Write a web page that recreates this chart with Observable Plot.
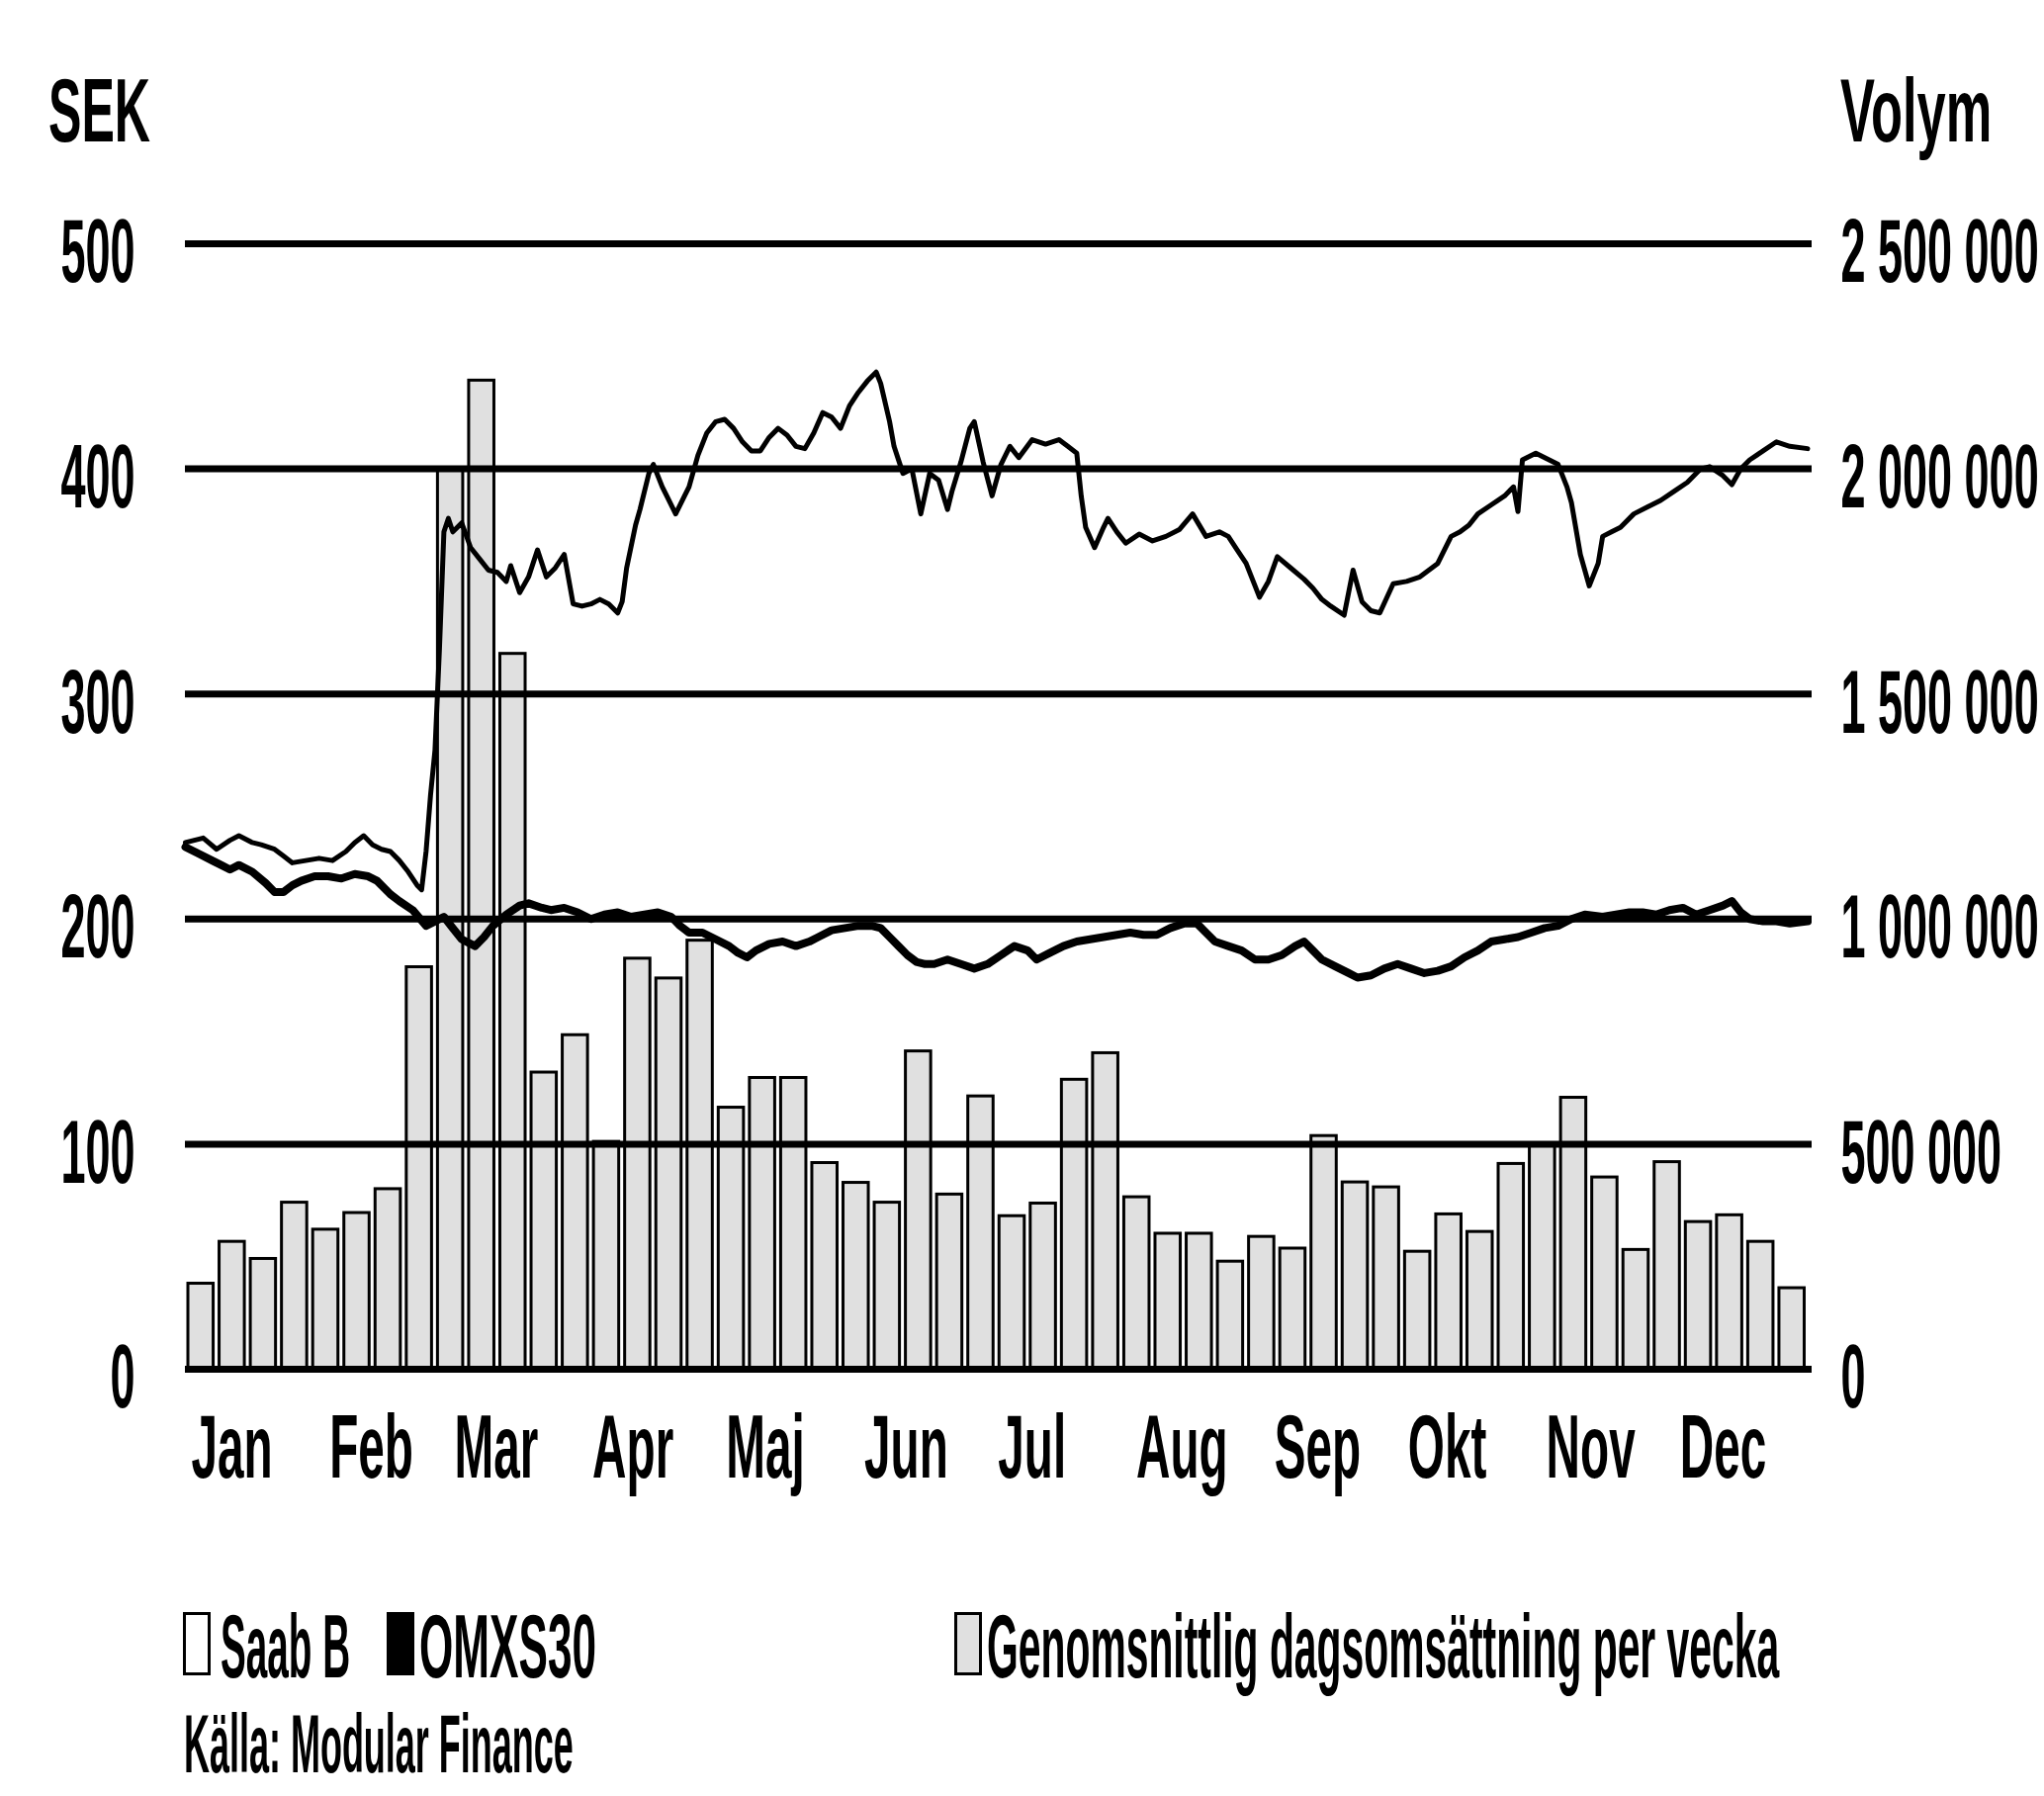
<!DOCTYPE html>
<html>
<head>
<meta charset="utf-8">
<script src="https://cdn.jsdelivr.net/npm/d3@7"></script>
<script src="https://cdn.jsdelivr.net/npm/@observablehq/plot@0.6"></script>
<style>
html,body{margin:0;padding:0;background:#fff;}
body{width:2067px;height:1816px;overflow:hidden;position:relative;font-family:"Liberation Sans",Arial,sans-serif;font-weight:bold;color:#000;}
.t{position:absolute;white-space:nowrap;font-size:90px;line-height:1;transform-origin:0 0;}
.box{position:absolute;box-sizing:border-box;border:3px solid #000;}
#chart{position:absolute;left:0;top:170px;}
</style>
</head>
<body>
<div class="t" data-w="103" style="left:49px;top:67px;">SEK</div>
<div class="t" data-w="153" style="left:1861px;top:67px;">Volym</div>
<div id="chart"></div>
<div class="box" style="left:185px;top:1630px;width:28px;height:64px;background:#fff;"></div>
<div class="t" data-w="131" style="left:223px;top:1620px;">Saab B</div>
<div class="box" style="left:391px;top:1630px;width:28px;height:64px;background:#000;"></div>
<div class="t" data-w="179" style="left:424px;top:1620px;">OMXS30</div>
<div class="box" style="left:965px;top:1630px;width:28px;height:64px;background:#e0e0e0;"></div>
<div class="t" data-w="801" style="left:998px;top:1620px;">Genomsnittlig dagsomsättning per vecka</div>
<div class="t" data-w="394" style="left:186px;top:1721px;font-size:84px;">Källa: Modular Finance</div>
<script>
// ---- data ----
const manader = ["Jan","Feb","Mar","Apr","Maj","Jun","Jul","Aug","Sep","Okt","Nov","Dec"];
const sekTicks = [0, 100, 200, 300, 400, 500];
const volymTicks = [0, 500000, 1000000, 1500000, 2000000, 2500000];

// Saab B, SEK (2022)
const saabDatum = ["01-01","01-03","01-05","01-08","01-11","01-13","01-16","01-18","01-21","01-23","01-25","01-28","01-31",
 "02-03","02-06","02-08","02-10","02-12","02-14","02-16","02-18","02-20","02-22","02-23","02-24","02-25","02-26","02-27","02-28",
 "03-01","03-02","03-04","03-06","03-08","03-10","03-12","03-14","03-15","03-17","03-19","03-21","03-23","03-25","03-27","03-29","03-31",
 "04-02","04-04","04-06","04-08","04-09","04-10","04-12","04-13","04-15","04-16","04-18","04-19","04-21","04-23","04-24","04-26","04-28","04-30",
 "05-02","05-04","05-06","05-08","05-10","05-12","05-14","05-16","05-18","05-20","05-22","05-24","05-26","05-28","05-30",
 "06-01","06-03","06-04","06-05","06-06","06-08","06-09","06-11","06-13","06-15","06-17","06-19","06-21","06-22","06-24","06-26","06-27","06-29",
 "07-01","07-03","07-05","07-07","07-10","07-13","07-16","07-18","07-20","07-21","07-22","07-24","07-26","07-27","07-29","07-31",
 "08-03","08-06","08-09","08-12","08-15","08-18","08-21","08-23","08-25","08-27","08-29","08-30",
 "09-01","09-03","09-06","09-09","09-11","09-13","09-15","09-18","09-19","09-20","09-22","09-24","09-26","09-29",
 "10-02","10-05","10-09","10-12","10-14","10-16","10-18","10-21","10-24","10-26","10-27","10-28","10-31",
 "11-02","11-05","11-07","11-08","11-10","11-12","11-14","11-15","11-17","11-19","11-22","11-25","11-28",
 "12-01","12-04","12-07","12-09","12-12","12-14","12-16","12-18","12-21","12-24","12-27","12-31"];
const saabKurs = [234,235,236,231,235,237,234,233,231,228,225,226,227,
 226,230,234,237,233,231,230,226,221,215,213,230,255,275,320,372,
 378,372,376,365,360,355,354,350,357,345,352,364,352,356,362,340,339,
 340,342,340,336,341,356,375,382,398,402,392,388,380,388,392,406,416,421,
 422,418,412,408,408,414,418,415,410,409,416,425,423,418,428,
 434,439,441,443,438,421,410,398,400,380,398,395,382,390,403,418,421,403,
 388,402,410,405,413,411,413,410,407,388,374,365,374,378,372,367,
 371,368,370,373,380,370,372,370,364,358,348,343,
 350,361,356,351,347,342,339,335,345,355,341,337,336,349,
 350,352,358,370,372,375,380,384,388,392,381,404,407,
 405,402,392,385,362,348,358,370,372,374,380,383,386,
 390,394,400,401,397,393,400,404,408,412,410,409];

// OMXS30, indexerat till Saab B (SEK)
const omxDatum = ["01-01","01-04","01-07","01-09","01-11","01-13","01-16","01-19","01-21","01-23","01-25","01-27","01-30",
 "02-02","02-05","02-08","02-11","02-13","02-16","02-18","02-21","02-24","02-26","02-28",
 "03-02","03-04","03-06","03-07","03-09","03-11","03-14","03-17","03-19","03-22","03-24","03-27","03-30",
 "04-02","04-05","04-08","04-11","04-14","04-17","04-20","04-22","04-24","04-27","04-30",
 "05-03","05-05","05-07","05-09","05-12","05-15","05-18","05-21","05-23","05-26","05-29",
 "06-01","06-04","06-06","06-08","06-10","06-12","06-14","06-16","06-18","06-21","06-24","06-27","06-30",
 "07-03","07-06","07-09","07-11","07-14","07-17","07-20","07-23","07-26","07-29",
 "08-01","08-04","08-07","08-10","08-13","08-16","08-18","08-20","08-23","08-26","08-29",
 "09-01","09-04","09-07","09-09","09-11","09-13","09-16","09-19","09-21","09-24","09-27","09-30",
 "10-03","10-06","10-09","10-12","10-15","10-18","10-21","10-24","10-27","10-30",
 "11-02","11-05","11-08","11-11","11-15","11-18","11-21","11-24","11-27","11-30",
 "12-03","12-06","12-09","12-12","12-14","12-16","12-18","12-21","12-24","12-27","12-31"];
const omxKurs = [232,229,226,224,222,224,221,216,212,212,215,217,219,
 219,218,220,219,217,211,208,204,197,199,201,
 196,191,189,188,192,197,202,206,207,205,204,205,203,
 200,202,203,201,202,203,201,197,194,194,191,
 188,185,183,186,189,190,188,190,192,195,196,
 197,197,196,192,188,184,181,180,180,182,180,178,180,
 184,188,186,182,185,188,190,191,192,193,
 194,193,193,196,198,198,194,190,188,186,182,
 182,184,188,190,186,182,179,176,174,175,178,180,
 178,176,177,179,183,186,190,191,192,194,
 196,197,200,202,201,202,203,203,202,204,
 205,202,204,206,208,203,200,199,199,198,199];

// Genomsnittlig dagsomsättning per vecka (antal aktier)
const veckor = [1,2,3,4,5,6,7,8,9,10,11,12,13,14,15,16,17,18,19,20,21,22,23,24,25,26,
 27,28,29,30,31,32,33,34,35,36,37,38,39,40,41,42,43,44,45,46,47,48,49,50,51,52];
const volym = [190000,283000,245000,370000,310000,347000,400000,893000,2000000,2196000,1589000,659000,742000,
 505000,912000,868000,952000,581000,647000,647000,458000,414000,370000,706000,388000,606000,
 340000,368000,643000,702000,382000,301000,301000,239000,294000,268000,518000,415000,404000,
 261000,344000,305000,456000,500000,603000,426000,265000,460000,327000,342000,283000,180000];

// ---- build ----
const start = new Date(Date.UTC(2022, 0, 1));
const end = new Date(Date.UTC(2023, 0, 1));
const parse = s => new Date("2022-" + s + "T00:00:00Z");
const saab = saabDatum.map((d, i) => ({date: parse(d), v: saabKurs[i]}));
const omx = omxDatum.map((d, i) => ({date: parse(d), v: omxKurs[i]}));
const bars = veckor.map((w, i) => ({
  x1: d3.utcDay.offset(start, 7 * (w - 1)),
  x2: d3.utcDay.offset(start, 7 * w),
  vol: volym[i]
}));
const VOL_PER_SEK = 5000; // 2 500 000 aktier <-> 500 SEK
const monthStarts = d3.utcMonths(start, end);
const fmtVol = v => v === 0 ? "0" : d3.format(",")(v).replace(/,/g, " ");

const chart = Plot.plot({
  width: 2067,
  height: 1344,
  marginLeft: 187,
  marginRight: 235,
  marginTop: 76,
  marginBottom: 130,
  style: {fontFamily: "'Liberation Sans', Arial, sans-serif", fontWeight: "bold", background: "white", color: "black", overflow: "visible"},
  x: {type: "utc", domain: [start, end]},
  y: {domain: [0, 500]},
  marks: [
    Plot.rectY(bars, {x1: "x1", x2: "x2", y1: 0, y2: d => d.vol / VOL_PER_SEK, insetLeft: 3, insetRight: 3,
      fill: "#e0e0e0", stroke: "#000", strokeWidth: 3}),
    Plot.ruleY(sekTicks, {stroke: "#000", strokeWidth: 7}),
    Plot.line(omx, {x: "date", y: "v", stroke: "#000", strokeWidth: 8, strokeLinejoin: "round", strokeLinecap: "round"}),
    Plot.line(saab, {x: "date", y: "v", stroke: "#000", strokeWidth: 5, strokeLinejoin: "round", strokeLinecap: "round"}),
    Plot.axisY(sekTicks, {anchor: "left", tickSize: 0, tickPadding: 51, fontSize: 90, dy: 10, label: null}),
    Plot.axisY(volymTicks.map(v => v / VOL_PER_SEK), {anchor: "right", tickSize: 0, tickPadding: 29, fontSize: 90, dy: 10,
      label: null, tickFormat: d => fmtVol(d * VOL_PER_SEK)}),
    Plot.axisX(monthStarts, {anchor: "bottom", tickSize: 0, tickPadding: 46, fontSize: 90, textAnchor: "start", dx: 6,
      label: null, tickFormat: d => manader[d.getUTCMonth()]})
  ]
});

// condense SVG text horizontally (narrow typeface in reference)
chart.querySelectorAll("text").forEach(t => {
  const g = t.parentNode;
  const lab = (g && g.getAttribute && g.getAttribute("aria-label")) || "";
  const s = lab.startsWith("x-axis") ? 0.53 : 0.5;
  const tr = t.getAttribute("transform");
  if (tr) {
    t.setAttribute("transform", tr + ` scale(${s},1)`);
  } else {
    const x = +(t.getAttribute("x") || 0), y = +(t.getAttribute("y") || 0);
    t.removeAttribute("x"); t.removeAttribute("y");
    t.setAttribute("transform", `translate(${x},${y}) scale(${s},1)`);
  }
});
document.getElementById("chart").appendChild(chart);

// fit HTML texts to their widths
document.querySelectorAll(".t[data-w]").forEach(el => {
  const w = el.offsetWidth;
  const target = +el.dataset.w;
  if (w > 0) el.style.transform = `scaleX(${target / w})`;
});
</script>
</body>
</html>
